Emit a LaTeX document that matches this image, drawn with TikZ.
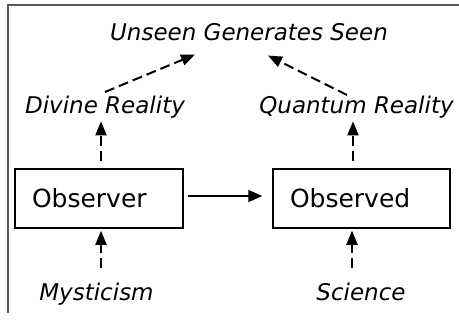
\documentclass[tikz,border=0pt]{standalone}
\usepackage{fontspec}
\setmainfont{DejaVu Sans}
\usetikzlibrary{arrows.meta}
\tikzset{
  lbl/.style={font=\fontsize{23}{27}\selectfont\itshape, anchor=base, inner sep=3.33pt},
  box/.style={draw, line width=1.5pt, minimum height=59pt, align=left, inner xsep=17pt,
    font=\fontsize{25}{30}\selectfont},
  dasharrow/.style={line width=2pt, dash pattern=on 10pt off 5pt, -{Triangle[length=14pt,width=11pt]}},
  solidarrow/.style={line width=2pt, -{Triangle[length=14pt,width=12pt]}},
  frame/.style={draw=black!65, line width=1.2pt}
}
\begin{document}
\begin{tikzpicture}[x=1pt,y=-1pt]
\useasboundingbox (0,0) rectangle (459,322);
\draw[frame] (8,313) -- (8,5) -- (459,5);
\node[lbl] (uns) at (249,40.7) {Unseen Generates Seen};
\node[lbl] (div) at (105,113) {Divine Reality};
\node[lbl] (qua) at (356.5,113) {Quantum Reality};
\node[lbl] (mys) at (96.5,300) {Mysticism};
\node[lbl] (sci) at (361,300) {Science};
\node[box, text width=134pt] (obsr) at (99,198.5) {Observer};
\node[box, text width=143pt] (obsd) at (361.5,198.5) {Observed};
\draw[dasharrow] (div.north) -- ([shift={(-54,10)}]uns.south);
\draw[dasharrow] ([shift={(-9.5,3)}]qua.north) -- ([shift={(19,11)}]uns.south);
\draw[dasharrow] ([shift={(2,-7)}]obsr.north) -- ([xshift=2pt]obsr.north |- div.south);
\draw[dasharrow] ([shift={(-8.5,-7)}]obsd.north) -- ([xshift=-8.5pt]obsd.north |- qua.south);
\draw[dasharrow] ([shift={(4.5,-11)}]mys.north) -- ([shift={(2,2)}]obsr.south);
\draw[dasharrow] ([shift={(-9,-11)}]sci.north) -- ([shift={(-9.5,2)}]obsd.south);
\draw[solidarrow] ([shift={(4,-2.5)}]obsr.east) -- ([shift={(-10,-2.5)}]obsd.west);
\end{tikzpicture}
\end{document}
